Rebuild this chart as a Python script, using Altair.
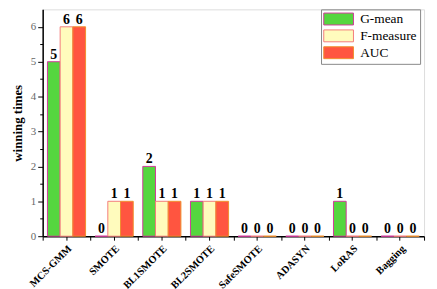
import altair as alt
import pandas as pd

methods = ["MCS-GMM", "SMOTE", "BL1SMOTE", "BL2SMOTE", "SafeSMOTE", "ADASYN", "LoRAS", "Bagging"]
series = ["G-mean", "F-measure", "AUC"]
gmean = [5, 0, 2, 1, 0, 0, 1, 0]
fmeasure = [6, 1, 1, 1, 0, 0, 0, 0]
auc = [6, 1, 1, 1, 0, 0, 0, 0]

rows = []
for i, m in enumerate(methods):
    for s, vals in zip(series, [gmean, fmeasure, auc]):
        rows.append({"method": m, "metric": s, "value": vals[i]})
df = pd.DataFrame(rows)

fills = ["#55d63f", "#fffbbd", "#ff5540"]
strokes = ["#d03a9a", "#f47c7c", "#f0902f"]
FONT = "Liberation Serif"

xenc = alt.X("method:N", sort=methods, title=None,
             scale=alt.Scale(paddingInner=0.2, paddingOuter=0.1),
             axis=alt.Axis(labelAngle=-45, labelFont=FONT, labelFontWeight="bold",
                           labelFontSize=10.5, labelColor="#000", tickColor="#000",
                           domainColor="#000", domainWidth=1.5, tickSize=4, tickWidth=1,
                           labelPadding=3))
yenc = alt.Y("value:Q", title="winning times",
             scale=alt.Scale(domain=[0, 6.5], nice=False),
             axis=alt.Axis(values=[0, 1, 2, 3, 4, 5, 6], labelFont=FONT, labelFontSize=11,
                           labelColor="#666", tickColor="#000", domainColor="#000",
                           domainWidth=1.5, tickSize=5, grid=False, titleFont=FONT,
                           titleFontSize=13, titleFontWeight="bold", titleColor="#000",
                           titlePadding=6))

base = alt.Chart(df).encode(
    x=xenc,
    xOffset=alt.XOffset("metric:N", sort=series,
                        scale=alt.Scale(paddingInner=0, paddingOuter=0)),
    y=yenc,
)

bars = base.mark_bar(strokeWidth=1).encode(
    fill=alt.Fill("metric:N", sort=series,
                  scale=alt.Scale(domain=series, range=fills),
                  legend=alt.Legend(title=None, orient="none", legendX=281, legendY=0,
                                    labelFont=FONT, labelFontSize=13.5, labelColor="#000",
                                    symbolType="M-2.5,-1H2.5V1H-2.5Z", symbolSize=144,
                                    symbolStrokeWidth=1, strokeColor="#888",
                                    padding=3, rowPadding=0, symbolOffset=8,
                                    labelOffset=15, symbolOpacity=1)),
    stroke=alt.Stroke("metric:N", sort=series,
                      scale=alt.Scale(domain=series, range=strokes), legend=None),
)

labels = base.mark_text(dy=-7, font=FONT, fontWeight="bold", fontSize=14, color="#000").encode(
    text=alt.Text("value:Q")
)

main = alt.layer(bars, labels)

# minor ticks
bounds = pd.DataFrame({"b": list(range(len(methods) + 1))})
xminor = alt.Chart(bounds).mark_point(opacity=0).encode(
    x=alt.X("b:Q", scale=alt.Scale(domain=[0, len(methods)], nice=False), title=None,
            axis=alt.Axis(orient="bottom", values=list(range(len(methods) + 1)), labels=False,
                          domain=False, tickSize=4, tickColor="#000", grid=False)),
    y=alt.value(0),
)
halves = pd.DataFrame({"v": [0.5, 1.5, 2.5, 3.5, 4.5, 5.5]})
yminor = alt.Chart(halves).mark_point(opacity=0).encode(
    y=alt.Y("v:Q", scale=alt.Scale(domain=[0, 6.5], nice=False), title=None,
            axis=alt.Axis(orient="left", values=[0.5, 1.5, 2.5, 3.5, 4.5, 5.5], labels=False,
                          domain=False, tickSize=3, tickColor="#000", grid=False)),
    x=alt.value(0),
)

chart = alt.layer(main, xminor, yminor).resolve_scale(
    x="independent", y="independent"
).properties(
    width=385, height=229,
    autosize=alt.AutoSizeParams(type="none"),
    padding={"left": 35, "top": 0, "right": 5, "bottom": 60},
).configure_view(stroke=None).configure(background="white")

chart.save("out.html", embed_options={"renderer": "svg", "actions": False})
